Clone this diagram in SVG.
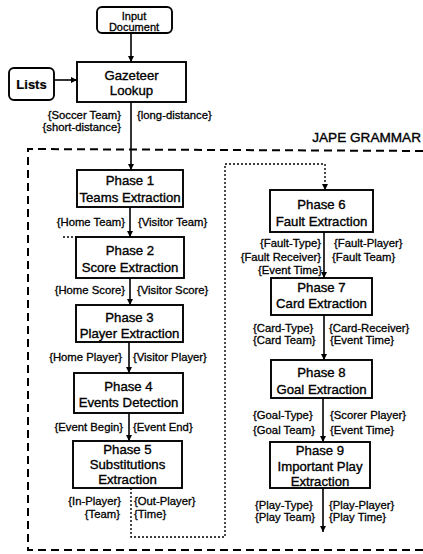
<svg xmlns="http://www.w3.org/2000/svg" width="423" height="554" viewBox="0 0 423 554">
<style>
.box{fill:#fff;stroke:#000;stroke-width:1.9}
.t{font-family:"Liberation Sans",Arial,sans-serif;font-size:13.2px;fill:#000;stroke:#000;stroke-width:0.35;text-anchor:middle}
.lb{font-family:"Liberation Sans",Arial,sans-serif;font-size:11.3px;fill:#000;stroke:#000;stroke-width:0.3}
.e{text-anchor:end}
.ln{fill:none;stroke:#000;stroke-width:1.6}
.dash{fill:none;stroke:#000;stroke-width:2;stroke-dasharray:8 5}
.dot{fill:none;stroke:#000;stroke-width:1.4;stroke-dasharray:2 2}
</style>
<defs>
<marker id="ah" viewBox="0 0 10 10" refX="10" refY="5" markerWidth="7" markerHeight="6" markerUnits="userSpaceOnUse" orient="auto">
<path d="M0,0 L10,5 L0,10 z" fill="#000"/>
</marker>
</defs>
<rect width="423" height="554" fill="#fff"/>

<g id="connectors">
<path class="dash" d="M423,151 L28,149 L28,550 L423,550"/>
<path class="dot" d="M131,488 L131,537 L225,537 L225,164 L325,164 L325,190" marker-end="url(#ah)"/>
<path class="dot" d="M63,237 L76,237"/>
<path class="ln" d="M131,33 L131,62" marker-end="url(#ah)"/>
<path class="ln" d="M54,80 L77,80" marker-end="url(#ah)"/>
<path class="ln" d="M131,102 L131,170" marker-end="url(#ah)"/>
<path class="ln" d="M130,207 L130,237" marker-end="url(#ah)"/>
<path class="ln" d="M130,278 L130,305" marker-end="url(#ah)"/>
<path class="ln" d="M129,342 L129,373" marker-end="url(#ah)"/>
<path class="ln" d="M129,413 L129,441" marker-end="url(#ah)"/>
<path class="ln" d="M324,232 L324,278" marker-end="url(#ah)"/>
<path class="ln" d="M324,315 L324,360" marker-end="url(#ah)"/>
<path class="ln" d="M323,398 L323,442" marker-end="url(#ah)"/>
<path class="ln" d="M323,488 L323,532" marker-end="url(#ah)"/>
</g>

<g id="labels">
<text class="lb e" x="121" y="119">{Soccer Team}</text>
<text class="lb e" x="121" y="131">{short-distance}</text>
<text class="lb" x="137" y="119">{long-distance}</text>
<text class="lb e" x="125" y="226">{Home Team}</text>
<text class="lb" x="138" y="226">{Visitor Team}</text>
<text class="lb e" x="125" y="294">{Home Score}</text>
<text class="lb" x="137" y="294">{Visitor Score}</text>
<text class="lb e" x="122" y="361">{Home Player}</text>
<text class="lb" x="133" y="361">{Visitor Player}</text>
<text class="lb e" x="123" y="431">{Event Begin}</text>
<text class="lb" x="133" y="431">{Event End}</text>
<text class="lb e" x="121" y="505">{In-Player}</text>
<text class="lb e" x="120" y="518">{Team}</text>
<text class="lb" x="134" y="505">{Out-Player}</text>
<text class="lb" x="134" y="518">{Time}</text>
<text class="lb e" x="321" y="247">{Fault-Type}</text>
<text class="lb e" x="321" y="261">{Fault Receiver}</text>
<text class="lb e" x="322" y="274">{Event Time}</text>
<text class="lb" x="334" y="247">{Fault-Player}</text>
<text class="lb" x="332" y="261">{Fault Team}</text>
<text class="lb" x="253" y="332">{Card-Type}</text>
<text class="lb" x="253" y="344">{Card Team}</text>
<text class="lb" x="329" y="332">{Card-Receiver}</text>
<text class="lb" x="330" y="344">{Event Time}</text>
<text class="lb" x="253" y="419">{Goal-Type}</text>
<text class="lb" x="253" y="434">{Goal Team}</text>
<text class="lb" x="330" y="419">{Scorer Player}</text>
<text class="lb" x="330" y="434">{Event Time}</text>
<text class="lb" x="255" y="509">{Play-Type}</text>
<text class="lb" x="255" y="521">{Play Team}</text>
<text class="lb" x="329" y="509">{Play-Player}</text>
<text class="lb" x="329" y="521">{Play Time}</text>
<text class="t" x="421" y="142" style="text-anchor:end;font-size:13.6px">JAPE GRAMMAR</text>
</g>

<g id="input">
<rect class="box" x="97" y="7" width="75" height="26" rx="5"/>
<text class="t" x="134" y="20" style="font-size:11px;stroke-width:0.3">Input</text>
<text class="t" x="134" y="31" style="font-size:11px;stroke-width:0.3">Document</text>
</g>
<g id="lists">
<rect class="box" x="9" y="68" width="45" height="32" rx="5"/>
<text class="t" x="31.5" y="89" style="font-weight:bold;font-size:13px;stroke-width:0.2">Lists</text>
</g>
<g id="gazeteer">
<rect class="box" x="77" y="62" width="109" height="40"/>
<text class="t" x="131.5" y="80">Gazeteer</text>
<text class="t" x="131.5" y="95">Lookup</text>
</g>
<g id="phase1">
<rect class="box" x="77" y="170" width="106" height="37"/>
<text class="t" x="130" y="185">Phase 1</text>
<text class="t" x="130" y="202">Teams Extraction</text>
</g>
<g id="phase2">
<rect class="box" x="76" y="237" width="108" height="41"/>
<text class="t" x="130" y="255">Phase 2</text>
<text class="t" x="130" y="272">Score Extraction</text>
</g>
<g id="phase3">
<rect class="box" x="76" y="305" width="107" height="37"/>
<text class="t" x="129.5" y="322">Phase 3</text>
<text class="t" x="129.5" y="338">Player Extraction</text>
</g>
<g id="phase4">
<rect class="box" x="74" y="373" width="109" height="40"/>
<text class="t" x="128.5" y="391">Phase 4</text>
<text class="t" x="128.5" y="407">Events Detection</text>
</g>
<g id="phase5">
<rect class="box" x="73" y="441" width="109" height="47"/>
<text class="t" x="127.5" y="454">Phase 5</text>
<text class="t" x="127.5" y="469">Substitutions</text>
<text class="t" x="127.5" y="484">Extraction</text>
</g>
<g id="phase6">
<rect class="box" x="270" y="190" width="103" height="42"/>
<text class="t" x="321.5" y="209">Phase 6</text>
<text class="t" x="321.5" y="226">Fault Extraction</text>
</g>
<g id="phase7">
<rect class="box" x="271" y="278" width="101" height="37"/>
<text class="t" x="321.5" y="292">Phase 7</text>
<text class="t" x="321.5" y="308">Card Extraction</text>
</g>
<g id="phase8">
<rect class="box" x="271" y="360" width="101" height="38"/>
<text class="t" x="321.5" y="377">Phase 8</text>
<text class="t" x="321.5" y="394">Goal Extraction</text>
</g>
<g id="phase9">
<rect class="box" x="270" y="442" width="100" height="46"/>
<text class="t" x="320" y="455">Phase 9</text>
<text class="t" x="320" y="471">Important Play</text>
<text class="t" x="320" y="486">Extraction</text>
</g>
</svg>
